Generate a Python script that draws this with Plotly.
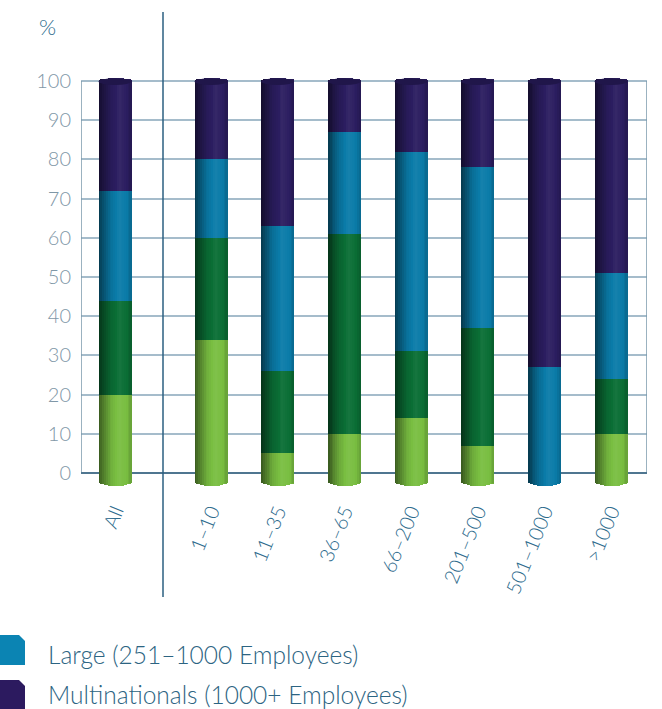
import plotly.graph_objects as go

# Share of firms by company-size class, per employee band (percent)
categories = ["All", "1–10", "11–35", "36–65", "66–200", "201–500", "501–1000", ">1000"]
small = [20, 34, 5, 10, 14, 7, 0, 10]
medium = [24, 26, 21, 51, 17, 30, 0, 14]
large = [28, 20, 37, 26, 51, 41, 27, 27]
multinationals = [28, 20, 37, 13, 18, 22, 73, 49]
y_ticks = [0, 10, 20, 30, 40, 50, 60, 70, 80, 90, 100]

series = [
    ("Small", small, "#79be41"),
    ("Medium", medium, "#0a6e35"),
    ("Large (251–1000 Employees)", large, "#0a7ba8"),
    ("Multinationals (1000+ Employees)", multinationals, "#2b1d60"),
]

W, H = 662, 709
ML, MR, MT, MB = 81, 15, 73, 220
PX_PER_UNIT = 3.92
Y_RANGE = [-16 / PX_PER_UNIT, 100 + 8 / PX_PER_UNIT]

# x layout: "All" sits apart from the size bands
gap_all = 1.44
positions = [0.0] + [gap_all + i for i in range(len(categories) - 1)]
X_RANGE = [-0.51, 7.98]
BAR_W = 0.495
N_STRIPS = 18

FONT = "Lato"
TEXT_BLUE = "#2e6b8d"


def hex_rgb(h):
    h = h.lstrip("#")
    return tuple(int(h[i:i + 2], 16) for i in (0, 2, 4))


def shade(color, t):
    """Cylinder shading: dark left edge, highlight right of centre."""
    prof = [(0.0, 0.45), (0.12, 0.62), (0.35, 0.90), (0.62, 1.05), (0.85, 1.0), (1.0, 0.84)]
    f = prof[-1][1]
    for (t0, f0), (t1, f1) in zip(prof, prof[1:]):
        if t0 <= t <= t1:
            f = f0 + (f1 - f0) * (t - t0) / (t1 - t0)
            break
    r, g, b = hex_rgb(color)
    if f <= 1:
        r, g, b = r * f, g * f, b * f
    else:
        k = f - 1
        r, g, b = r + (255 - r) * k, g + (255 - g) * k, b + (255 - b) * k
    return "rgb(%d,%d,%d)" % (round(r), round(g), round(b))


def px_to_paper_x(px):
    return (px - ML) / (W - ML - MR)


def px_to_paper_y(py):
    return (H - MB - py) / (H - MT - MB)


fig = go.Figure()

sw = BAR_W / N_STRIPS
overlap = sw * 0.8

# bottom colour of each cylinder = first non-empty segment
bottom_colors = []
for i in range(len(categories)):
    for _, vals, col in series:
        if vals[i] > 0:
            bottom_colors.append(col)
            break

for k in range(N_STRIPS):
    t = (k + 0.5) / N_STRIPS
    ov = overlap if k < N_STRIPS - 1 else 0.0
    xs = [p - BAR_W / 2 + k * sw + (sw + ov) / 2 for p in positions]
    width = sw + ov
    curve = (1 - (2 * t - 1) ** 2) ** 0.5

    # stacked segments
    for name, vals, col in series:
        fig.add_trace(go.Bar(
            x=xs, y=vals, width=width, name=name, showlegend=False,
            marker=dict(color=shade(col, t), line=dict(width=0)),
            hoverinfo="skip",
        ))
    # rounded top of the cylinder
    fig.add_trace(go.Bar(
        x=xs, y=[0.7 * curve] * len(xs), width=width, showlegend=False,
        marker=dict(color=shade(series[-1][2], t), line=dict(width=0)),
        hoverinfo="skip",
    ))
    # rounded foot of the cylinder below the baseline
    fig.add_trace(go.Bar(
        x=xs, y=[-(2.0 + 1.3 * curve)] * len(xs), width=width, showlegend=False,
        marker=dict(color=[shade(c, t) for c in bottom_colors], line=dict(width=0)),
        hoverinfo="skip",
    ))

# top face of each cylinder
for p in positions:
    fig.add_shape(type="circle", xref="x", yref="y",
                  x0=p - BAR_W / 2, x1=p + BAR_W / 2, y0=99.0, y1=100.7,
                  fillcolor="#20164a", line=dict(width=0), layer="above")

# plot frame
frame = "#7a98ab"
fig.add_shape(type="line", xref="x", yref="y", x0=X_RANGE[0], x1=X_RANGE[0], y0=0, y1=100,
              line=dict(color=frame, width=1.5), layer="between")
fig.add_shape(type="line", xref="x", yref="y", x0=X_RANGE[1], x1=X_RANGE[1], y0=0, y1=100,
              line=dict(color=frame, width=1.5), layer="between")
fig.add_shape(type="line", xref="x", yref="y", x0=X_RANGE[0], x1=X_RANGE[1], y0=0, y1=0,
              line=dict(color="#4f7690", width=1.8), layer="between")

# divider between "All" and the size bands
fig.add_shape(type="line", xref="x", yref="paper", x0=0.72, x1=0.72,
              y0=px_to_paper_y(597), y1=px_to_paper_y(12),
              line=dict(color="#2b5f80", width=1.5), layer="above")

# "%" unit label
fig.add_annotation(text="%", xref="paper", yref="paper",
                   x=px_to_paper_x(47), y=px_to_paper_y(27), showarrow=False,
                   xanchor="center", yanchor="middle",
                   font=dict(family=FONT, size=22, color=TEXT_BLUE, weight=300))

# legend
legend_rows = [(series[2][0], "#0b84b3", 635, 654), (series[3][0], "#2c1a5f", 680, 694)]
for label, col, top, text_y in legend_rows:
    x0, x1, x2 = px_to_paper_x(-2), px_to_paper_x(19), px_to_paper_x(25)
    ya, yb, yc = px_to_paper_y(top), px_to_paper_y(top + 6), px_to_paper_y(top + 30)
    fig.add_shape(type="path", xref="paper", yref="paper",
                  path=f"M {x0},{ya} L {x1},{ya} L {x2},{yb} L {x2},{yc} L {x0},{yc} Z",
                  fillcolor=col, line=dict(width=0))
    fig.add_annotation(text=label, xref="paper", yref="paper",
                       x=px_to_paper_x(46), y=px_to_paper_y(text_y), showarrow=False,
                       xanchor="left", yanchor="middle",
                       font=dict(family=FONT, size=24.5, color="#2c6482", weight=300))

fig.update_layout(
    width=W, height=H,
    margin=dict(l=ML, r=MR, t=MT, b=MB, pad=0),
    barmode="relative",
    bargap=0,
    plot_bgcolor="white", paper_bgcolor="white",
    showlegend=False,
    xaxis=dict(
        range=X_RANGE, tickmode="array", tickvals=positions, ticktext=categories,
        tickangle=-68, showgrid=False, zeroline=False, showline=False, ticks="",
        ticklabelstandoff=6,
        tickfont=dict(family=FONT, size=20, color=TEXT_BLUE, weight=300),
    ),
    yaxis=dict(
        range=Y_RANGE, tickmode="array", tickvals=y_ticks,
        showgrid=True, gridcolor="#a5bccb", gridwidth=1.5,
        zeroline=False, showline=False, ticks="", ticklabelstandoff=9,
        tickfont=dict(family=FONT, size=20, color="#7f97a7", weight=300),
    ),
)

fig.write_html("out.html")
